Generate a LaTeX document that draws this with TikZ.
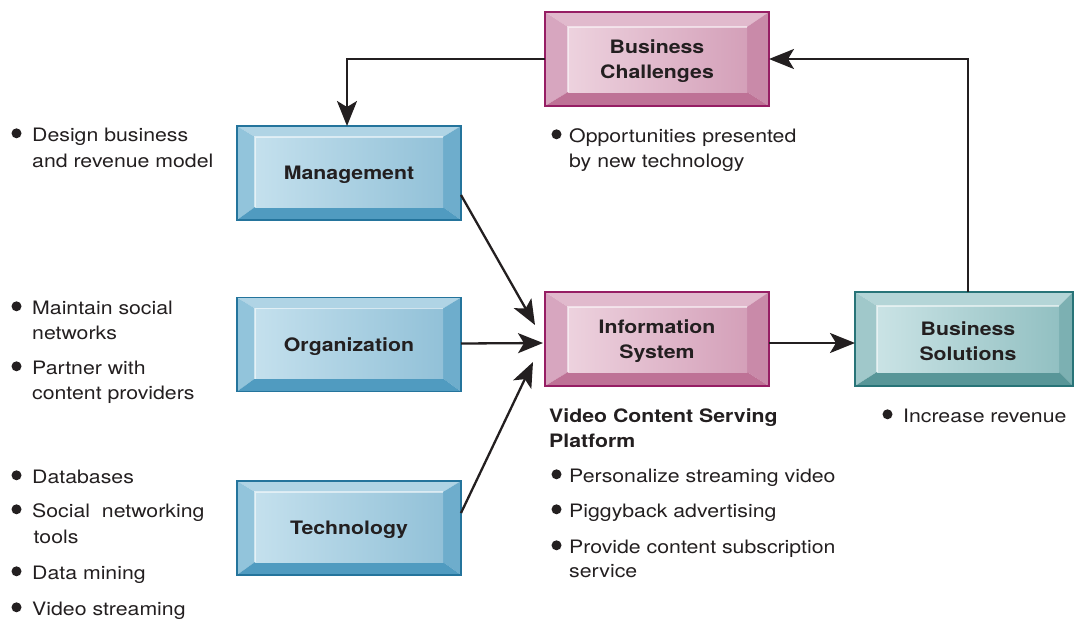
\documentclass[tikz,border=0pt]{standalone}
\usepackage{fontspec}
\setmainfont{TeX Gyre Heros}[FakeStretch=1.15]
\usetikzlibrary{calc,arrows.meta}
\definecolor{txt}{RGB}{35,31,32}
% blue
\definecolor{blF1}{RGB}{196,224,237}
\definecolor{blF2}{RGB}{146,193,216}
\definecolor{blT}{RGB}{176,212,229}
\definecolor{blL}{RGB}{146,196,219}
\definecolor{blR}{RGB}{110,173,204}
\definecolor{blB}{RGB}{80,155,192}
\definecolor{blD}{RGB}{36,116,156}
% pink
\definecolor{pkF1}{RGB}{237,210,222}
\definecolor{pkF2}{RGB}{212,160,185}
\definecolor{pkT}{RGB}{225,186,205}
\definecolor{pkL}{RGB}{215,166,191}
\definecolor{pkR}{RGB}{201,138,169}
\definecolor{pkB}{RGB}{190,114,150}
\definecolor{pkD}{RGB}{150,30,100}
% teal
\definecolor{tlF1}{RGB}{202,227,229}
\definecolor{tlF2}{RGB}{146,192,194}
\definecolor{tlT}{RGB}{180,213,215}
\definecolor{tlL}{RGB}{160,200,202}
\definecolor{tlR}{RGB}{124,176,178}
\definecolor{tlB}{RGB}{88,150,152}
\definecolor{tlD}{RGB}{40,116,120}
\newcommand{\bevbox}[9]{%
  \node[minimum width=#3, minimum height=#4, inner sep=0pt, outer sep=0pt] (#1) at #2 {};
  \coordinate (#1-a) at ($(#1.north west)+(#6,#7)$);
  \coordinate (#1-b) at ($(#1.north east)+(-#8,#7)$);
  \coordinate (#1-c) at ($(#1.south east)+(-#8,-#9)$);
  \coordinate (#1-d) at ($(#1.south west)+(#6,-#9)$);
  \fill[#5T] (#1.north west) -- (#1.north east) -- (#1-b) -- (#1-a) -- cycle;
  \fill[#5L] (#1.north west) -- (#1-a) -- (#1-d) -- (#1.south west) -- cycle;
  \fill[#5R] (#1.north east) -- (#1.south east) -- (#1-c) -- (#1-b) -- cycle;
  \fill[#5B] (#1.south west) -- (#1-d) -- (#1-c) -- (#1.south east) -- cycle;
  \shade[left color=#5F1, right color=#5F2] (#1-a) rectangle (#1-c);
  \draw[white, opacity=0.55, line width=1.2pt] (#1-d) -- (#1-a) -- (#1-b);
  \draw[#5D, line width=1.5pt] (#1.north west) rectangle (#1.south east);
}
\tikzset{
  lbl/.style={font=\fontsize{18.5}{25.5}\selectfont\bfseries, align=center, text=txt, inner sep=0pt},
  bt/.style={font=\fontsize{18.5}{25.5}\selectfont, anchor=base west, inner sep=0pt, text=txt},
  bbt/.style={font=\fontsize{18.5}{25.5}\selectfont\bfseries, anchor=base west, inner sep=0pt, text=txt},
  bul/.style={circle, fill=txt, inner sep=0pt, minimum size=10pt},
  arr/.style={draw=txt, line width=2.3pt, -{Stealth[length=25pt,width=20pt,inset=6pt]}}
}
\begin{document}
\begin{tikzpicture}[x=1pt,y=-1pt]
\useasboundingbox (0,0) rectangle (1074,619);
% boxes
\bevbox{mgmt}{(349,173)}{224}{94}{bl}{18}{11}{18}{13}
\bevbox{org}{(349,344.5)}{224}{94}{bl}{18}{11}{18}{13}
\bevbox{tech}{(349,528)}{224}{94}{bl}{18}{11}{18}{13}
\bevbox{chal}{(657,59)}{224}{94}{pk}{23}{15}{22}{14}
\bevbox{info}{(657,339)}{224}{94}{pk}{23}{15}{22}{14}
\bevbox{sol}{(964,339)}{218}{94}{tl}{22}{14}{14}{14}
\node[lbl] (mgmt-t) at (349,175) {Management};
\node[lbl] (org-t) at (349,347) {Organization};
\node[lbl] (tech-t) at (349,530) {Technology};
\node[lbl] (chal-t) at (657,61) {Business\\Challenges};
\node[lbl] (info-t) at (657,341) {Information\\System};
\node[lbl] (sol-t) at (968,341) {Business\\Solutions};
% connectors
\draw[arr] (chal.west) -| ([xshift=-2pt]mgmt.north);
\draw[arr] ([xshift=4pt]sol.north) |- (chal.east);
\draw[arr] ($(mgmt.east)+(0,22)$) -- ($(info.west)+(-10,-14)$);
\draw[arr] ($(org.east)+(0,-1)$) -- ($(info.west)+(-2,4)$);
\draw[arr] ($(tech.east)+(0,-15)$) -- ($(info.west)+(-12,23)$);
\draw[arr] ($(info.east)+(0,4)$) -- ($(sol.west)+(0,4)$);
% left lists
\node[bul] (b1) at (16.5,133.3) {};
\node[bt] (l1) at (32,141) {Design business};
\node[bt] (l2) at (32,167) {and revenue model};
\node[bul] (b2) at (16.5,306.3) {};
\node[bt] (l3) at (32,314) {Maintain social};
\node[bt] (l4) at (32,339) {networks};
\node[bul] (b3) at (16.5,366.3) {};
\node[bt] (l5) at (32,374) {Partner with};
\node[bt] (l6) at (32,399) {content providers};
\node[bul] (b4) at (16.5,475.3) {};
\node[bt] (l7) at (32,483) {Databases};
\node[bul] (b5) at (16.5,509.3) {};
\node[bt] (l8) at (32,517) {Social\ \ networking};
\node[bt] (l9) at (33.5,543) {tools};
\node[bul] (b6) at (16.5,571.3) {};
\node[bt] (l10) at (32,579) {Data mining};
\node[bul] (b7) at (16.5,607.3) {};
\node[bt] (l11) at (32,615) {Video streaming};
% middle
\node[bul] (b8) at (556.5,134.3) {};
\node[bt] (m1) at (569,142) {Opportunities presented};
\node[bt] (m2) at (569,167) {by new technology};
\node[bbt] (m3) at (549,422) {Video Content Serving};
\node[bbt] (m4) at (549,447) {Platform};
\node[bul] (b9) at (556.5,474.3) {};
\node[bt] (m5) at (569,482) {Personalize streaming video};
\node[bul] (b10) at (556.5,509.3) {};
\node[bt] (m6) at (569,517) {Piggyback advertising};
\node[bul] (b11) at (556.5,545.3) {};
\node[bt] (m7) at (569,553) {Provide content subscription};
\node[bt] (m8) at (569,577) {service};
% right
\node[bul] (b12) at (887.5,414.3) {};
\node[bt] (r1) at (903,422) {Increase revenue};
\end{tikzpicture}
\end{document}
